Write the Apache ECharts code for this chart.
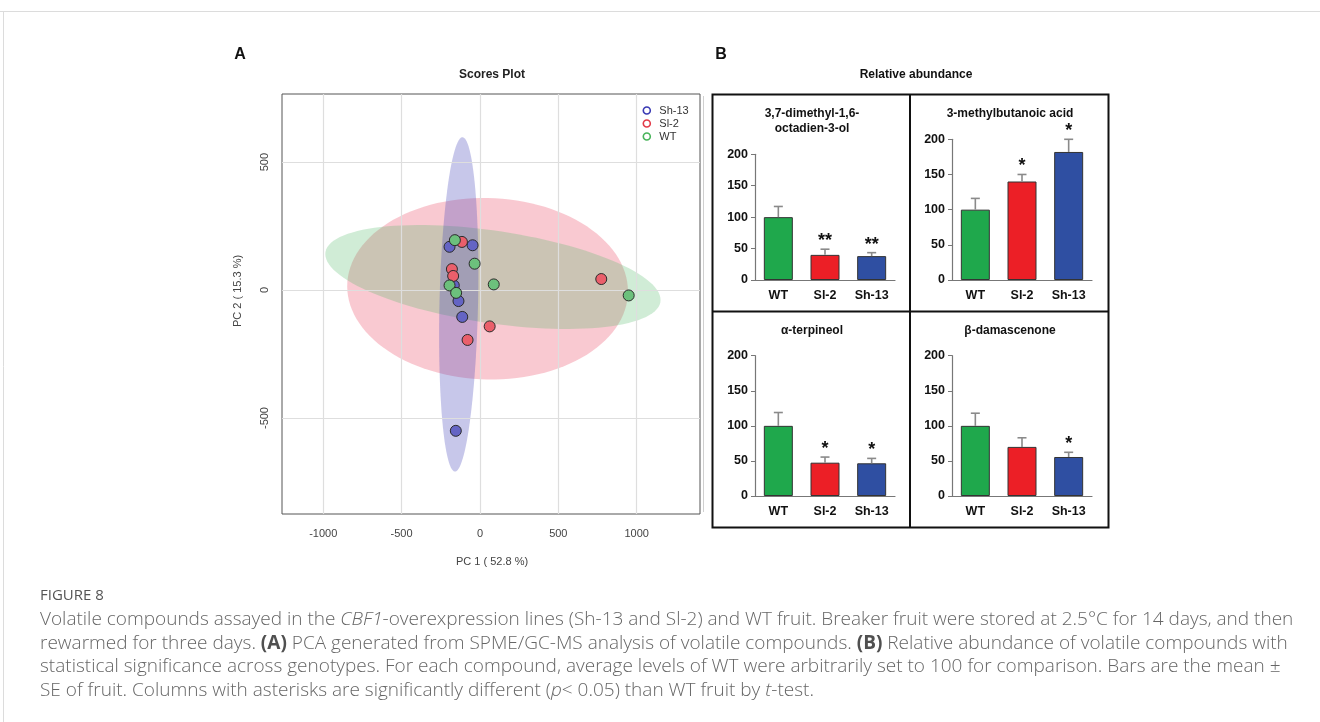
<!DOCTYPE html>
<html>
<head>
<meta charset="utf-8">
<script src="https://cdn.jsdelivr.net/npm/echarts@6/dist/echarts.min.js"></script>
<style>
html,body{margin:0;padding:0;background:#fff;}
#chart{width:1320px;height:722px;}
</style>
</head>
<body>
<div id="chart"></div>
<script>
// ---------- DATA ----------
const groups = ['Sh-13', 'Sl-2', 'WT'];
const sh13Scores = [[-194,169],[-47,175],[-167,18],[-137,-43],[-113,-105],[-154,-550]];
const sl2Scores  = [[-115,188],[-179,82],[-171,55],[62,-142],[-79,-195],[774,43]];
const wtScores   = [[-160,195],[-34,103],[-194,18],[88,22],[-152,-11],[949,-21]];
const pc1Ticks = [-1000, -500, 0, 500, 1000];
const pc2Ticks = [-500, 0, 500];

const genotypes = ['WT', 'Sl-2', 'Sh-13'];
const compoundNames = ['3,7-dimethyl-1,6-\noctadien-3-ol', '3-methylbutanoic acid', 'α-terpineol', 'β-damascenone'];
const linaloolMean = [100, 40, 38];
const linaloolSE   = [17, 9, 5.5];
const linaloolSig  = ['', '**', '**'];
const methylbutMean = [100, 140, 182];
const methylbutSE   = [16, 10, 18];
const methylbutSig  = ['', '*', '*'];
const terpineolMean = [100, 47.5, 46.6];
const terpineolSE   = [19, 8, 7];
const terpineolSig  = ['', '*', '*'];
const damasMean = [100, 70, 55.6];
const damasSE   = [18, 13, 6.7];
const damasSig  = ['', '', '*'];
const abundanceTicks = [0, 50, 100, 150, 200];

// ---------- STYLE ----------
const pointColors = ['#6464c4', '#ea5f6b', '#6cc07c'];
const legendColors = ['#3a3ab4', '#e23a48', '#48b45a'];
const ellipseFill = ['rgba(70,70,185,0.30)', 'rgba(235,60,90,0.28)', 'rgba(80,185,105,0.27)'];
const barColors = ['#1fa84c', '#ec1f26', '#2f4fa2'];

const chart = echarts.init(document.getElementById('chart'));

// 95% confidence ellipse polygon (in data units) from group covariance
function ellipsePath(pts) {
  const n = pts.length;
  const mx = pts.reduce((s,p)=>s+p[0],0)/n, my = pts.reduce((s,p)=>s+p[1],0)/n;
  let sxx=0, syy=0, sxy=0;
  pts.forEach(p=>{sxx+=(p[0]-mx)**2; syy+=(p[1]-my)**2; sxy+=(p[0]-mx)*(p[1]-my);});
  sxx/=(n-1); syy/=(n-1); sxy/=(n-1);
  const r = Math.sqrt(5.991);
  const l11 = Math.sqrt(sxx), l21 = sxy/l11, l22 = Math.sqrt(Math.max(syy - l21*l21, 0));
  const out = [];
  for (let k=0;k<120;k++){
    const t = 2*Math.PI*k/120;
    out.push([mx + r*l11*Math.cos(t), my + r*(l21*Math.cos(t) + l22*Math.sin(t))]);
  }
  return out;
}
const scoreSets = [sh13Scores, sl2Scores, wtScores];

const series = [];
const grids = [];
const xAxes = [];
const yAxes = [];

// ---- Scores plot grid ----
grids.push({left:282, top:94, width:418, height:420, show:true, borderColor:'#555', borderWidth:1, backgroundColor:'transparent'});
xAxes.push({
  type:'value', gridIndex:0, min:-1263, max:1404,
  axisLine:{show:false}, splitLine:{show:false},
  axisTick:{show:true, length:6, lineStyle:{color:'#555'}, customValues:pc1Ticks},
  axisLabel:{customValues:pc1Ticks, formatter:v=>String(v), color:'#444', fontSize:11, fontFamily:'Liberation Sans', margin:14}
});
yAxes.push({
  type:'value', gridIndex:0, min:-875, max:766,
  axisLine:{show:false}, splitLine:{show:false},
  axisTick:{show:true, length:6, lineStyle:{color:'#555'}, customValues:pc2Ticks},
  axisLabel:{customValues:pc2Ticks, formatter:v=>String(v), color:'#444', fontSize:11, fontFamily:'Liberation Sans', rotate:90, margin:12}
});
// grid lines
series.push({
  type:'scatter', xAxisIndex:0, yAxisIndex:0, data:[], silent:true, z:1,
  markLine:{silent:true, symbol:'none', animation:false, label:{show:false},
    lineStyle:{color:'#dedede', width:1.2, type:'solid'},
    data: pc1Ticks.map(v=>({xAxis:v})).concat(pc2Ticks.map(v=>({yAxis:v})))}
});
// ellipses
[1,2,0].forEach(g=>{
  const poly = ellipsePath(scoreSets[g]);
  series.push({
    type:'custom', name:groups[g]+' region', xAxisIndex:0, yAxisIndex:0, z:2, silent:true,
    data:[[0,0]],
    renderItem:function(params, api){
      return {type:'polygon', shape:{points: poly.map(p=>api.coord(p))}, style:{fill:ellipseFill[g], stroke:null}};
    }
  });
});
// points
groups.forEach((g,i)=>{
  series.push({
    type:'scatter', name:g, xAxisIndex:0, yAxisIndex:0, z:5,
    symbolSize:11, data:scoreSets[i],
    itemStyle:{color:pointColors[i], borderColor:'#2a2a2a', borderWidth:1, opacity:1}
  });
});

// ---- Bar panels ----
const panels = [
  {left:755, top:154.3, height:125.7, mean:linaloolMean, se:linaloolSE, sig:linaloolSig},
  {left:952, top:139.3, height:140.7, mean:methylbutMean, se:methylbutSE, sig:methylbutSig},
  {left:755, top:355.7, height:140.3, mean:terpineolMean, se:terpineolSE, sig:terpineolSig},
  {left:952, top:355.7, height:140.3, mean:damasMean, se:damasSE, sig:damasSig}
];
panels.forEach((p, k)=>{
  const gi = k+1;
  grids.push({left:p.left, top:p.top, width:140, height:p.height});
  xAxes.push({type:'category', gridIndex:gi, data:genotypes,
    axisLine:{lineStyle:{color:'#777', width:1.2}}, axisTick:{show:false},
    axisLabel:{color:'#111', fontWeight:'bold', fontSize:12.5, fontFamily:'Liberation Sans', margin:9}});
  yAxes.push({type:'value', gridIndex:gi, min:abundanceTicks[0], max:abundanceTicks[abundanceTicks.length-1], interval:50,
    axisLine:{show:true, lineStyle:{color:'#777', width:1.2}},
    axisTick:{show:true, length:4, lineStyle:{color:'#777'}},
    splitLine:{show:false},
    axisLabel:{color:'#111', fontWeight:'bold', fontSize:12.5, fontFamily:'Liberation Sans', margin:7}});
  series.push({
    type:'bar', xAxisIndex:gi, yAxisIndex:gi, barWidth:29, z:3,
    data:p.mean.map((v,i)=>({value:v, itemStyle:{color:barColors[i], borderColor:'#333', borderWidth:1}}))
  });
  series.push({
    type:'custom', xAxisIndex:gi, yAxisIndex:gi, z:4, silent:true,
    data:p.mean.map((v,i)=>[i, v, v+p.se[i]]),
    renderItem:function(params, api){
      const i = api.value(0);
      const a = api.coord([i, api.value(1)]);
      const b = api.coord([i, api.value(2)]);
      const children = [
        {type:'line', shape:{x1:a[0], y1:a[1], x2:b[0], y2:b[1]}, style:{stroke:'#8a8a8a', lineWidth:1.6}},
        {type:'line', shape:{x1:b[0]-4.5, y1:b[1], x2:b[0]+4.5, y2:b[1]}, style:{stroke:'#8a8a8a', lineWidth:1.6}}
      ];
      const s = p.sig[params.dataIndex];
      if (s) children.push({type:'text', style:{text:s, x:b[0], y:b[1]+1, align:'center', verticalAlign:'bottom',
        font:'bold 18px "Liberation Sans"', fill:'#111'}});
      return {type:'group', children:children};
    }
  });
});

// ---------- Text / decorations ----------
const capFont = '300 19px "Open Sans"';
const capColor = '#666';
const rich = {
  t:{font:capFont, fill:capColor},
  i:{font:'italic ' + capFont, fill:capColor},
  b:{font:'bold 19px "Open Sans"', fill:'#505050'}
};
const captionLines = [
  '{t|Volatile compounds assayed in the }{i|CBF1}{t|-overexpression lines (Sh-13 and Sl-2) and WT fruit. Breaker fruit were stored at 2.5°C for 14 days, and then}',
  '{t|rewarmed for three days. }{b|(A)}{t| PCA generated from SPME/GC-MS analysis of volatile compounds. }{b|(B)}{t| Relative abundance of volatile compounds with}',
  '{t|statistical significance across genotypes. For each compound, average levels of WT were arbitrarily set to 100 for comparison. Bars are the mean ±}',
  '{t|SE of fruit. Columns with asterisks are significantly different (}{i|p}{t|< 0.05) than WT fruit by }{i|t}{t|-test.}'
];
const graphic = [
  {type:'line', shape:{x1:0, y1:11.5, x2:1320, y2:11.5}, style:{stroke:'#dcdcdc', lineWidth:1}},
  {type:'line', shape:{x1:3.5, y1:11, x2:3.5, y2:722}, style:{stroke:'#dcdcdc', lineWidth:1}},
  {type:'line', shape:{x1:703.5, y1:96, x2:703.5, y2:512}, style:{stroke:'#d0d0d0', lineWidth:1}},
  {type:'text', x:240, y:55, style:{text:'A', font:'bold 16px "Liberation Sans"', fill:'#111', align:'center', verticalAlign:'middle'}},
  {type:'text', x:721, y:55, style:{text:'B', font:'bold 16px "Liberation Sans"', fill:'#111', align:'center', verticalAlign:'middle'}},
  {type:'text', x:492, y:75, style:{text:'Scores Plot', font:'bold 12px "Liberation Sans"', fill:'#222', align:'center', verticalAlign:'middle'}},
  {type:'text', x:238, y:291, rotation:Math.PI/2, style:{text:'PC 2 ( 15.3 %)', font:'11px "Liberation Sans"', fill:'#444', align:'center', verticalAlign:'middle'}},
  {type:'text', x:492, y:562, style:{text:'PC 1 ( 52.8 %)', font:'11px "Liberation Sans"', fill:'#444', align:'center', verticalAlign:'middle'}},
  {type:'text', x:916, y:75, style:{text:'Relative abundance', font:'bold 12px "Liberation Sans"', fill:'#111', align:'center', verticalAlign:'middle'}},
  {type:'rect', shape:{x:712.5, y:94.5, width:396, height:433}, style:{fill:'none', stroke:'#111', lineWidth:2}},
  {type:'line', shape:{x1:910, y1:94.5, x2:910, y2:527.5}, style:{stroke:'#111', lineWidth:2}},
  {type:'line', shape:{x1:712.5, y1:311.5, x2:1108.5, y2:311.5}, style:{stroke:'#111', lineWidth:2}},
  {type:'text', x:812, y:121, style:{text:compoundNames[0], font:'bold 12px "Liberation Sans"', fill:'#111', align:'center', verticalAlign:'middle', lineHeight:15}},
  {type:'text', x:1010, y:114, style:{text:compoundNames[1], font:'bold 12px "Liberation Sans"', fill:'#111', align:'center', verticalAlign:'middle'}},
  {type:'text', x:812, y:331, style:{text:compoundNames[2], font:'bold 12px "Liberation Sans"', fill:'#111', align:'center', verticalAlign:'middle'}},
  {type:'text', x:1010, y:331, style:{text:compoundNames[3], font:'bold 12px "Liberation Sans"', fill:'#111', align:'center', verticalAlign:'middle'}},
  {type:'text', x:40, y:596, style:{text:'FIGURE 8', font:'15px "Open Sans"', fill:'#555', align:'left', verticalAlign:'middle'}}
];
captionLines.forEach((ln, k)=>{
  graphic.push({type:'text', x:40, y:619.5 + k*23.7, style:{text:ln, rich:rich, font:capFont, fill:capColor, align:'left', verticalAlign:'middle'}});
});

chart.setOption({
  animation:false,
  backgroundColor:'#fff',
  grid:grids,
  xAxis:xAxes,
  yAxis:yAxes,
  legend:{
    left:637.5, top:100, orient:'vertical', itemGap:2, itemWidth:7, itemHeight:7,
    textStyle:{fontSize:11, color:'#333', fontFamily:'Liberation Sans', padding:[0,0,0,4]},
    data: groups.map((g,i)=>({name:g, icon:'circle', itemStyle:{color:'rgba(0,0,0,0)', borderColor:legendColors[i], borderWidth:1.6}}))
  },
  series:series,
  graphic:graphic
});
</script>
</body>
</html>
